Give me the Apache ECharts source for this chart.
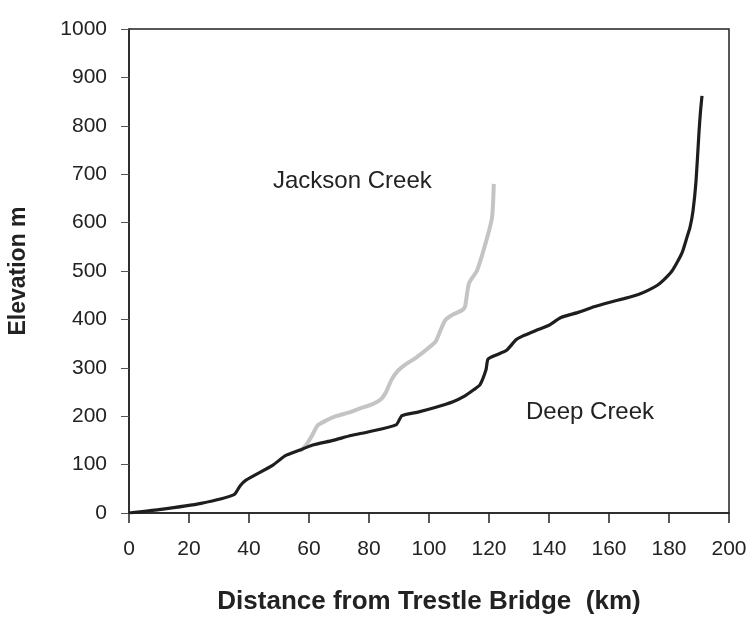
<!DOCTYPE html>
<html><head><meta charset="utf-8">
<script src="https://cdn.jsdelivr.net/npm/echarts@6/dist/echarts.min.js"></script>
<style>html,body{margin:0;padding:0;background:#fff}#c{width:753px;height:617px}</style>
</head><body><div id="c"></div>
<script>
// Deep Creek (black)
const deepX = [0,10,24,35,37,39,48,52,57,61,68,74,80,89,91,96,102,108,112,115,117,119,119.7,123,126,129,131,136,140,144,150,155,160,165,170,173,176,178,181,183,184.5,186,187,188,189,190,190.5,191];
const deepY = [0,7,20,38,56,68,99,118,130,140,150,160,168,182,201,208,218,230,242,255,265,296,318,328,337,358,365,378,388,404,415,426,435,443,452,460,470,480,500,521,540,570,590,624,685,787,830,862];
// Jackson Creek (grey)
const jackX = [57,59,61,62.9,65.7,69,73.5,77,81.2,84,85.6,87.5,89.5,92.2,95,97.8,100,102.2,104,105.5,108,111,112,113.3,116,118.8,121,121.6];
const jackY = [128,140,160,181,191,200,208,216,225,235,249,275,293,307,318,331,342,354,380,399,410,419,426,474,501,556,610,680];
const xTicks = [0,20,40,60,80,100,120,140,160,180,200];
const yTicks = [0,100,200,300,400,500,600,700,800,900,1000];

const zip = (xs, ys) => xs.map((x, i) => [x, ys[i]]);
const font = 'Liberation Sans, Arial, sans-serif';
const chart = echarts.init(document.getElementById('c'), null, {renderer: 'canvas'});
chart.setOption({
  animation: false,
  backgroundColor: '#fff',
  grid: {left: 129, right: 24, top: 29, bottom: 104, outerBoundsMode: 'none', containLabel: false,
         show: true, borderColor: '#222', borderWidth: 1.5, backgroundColor: 'transparent'},
  xAxis: {
    type: 'value', min: xTicks[0], max: xTicks[xTicks.length - 1], interval: 20,
    name: 'Distance from Trestle Bridge  (km)', nameLocation: 'middle', nameGap: 76,
    nameTextStyle: {fontFamily: font, fontSize: 26, fontWeight: 'bold', color: '#222'},
    axisLine: {lineStyle: {color: '#222', width: 1.5}},
    axisTick: {show: true, inside: false, length: 10, lineStyle: {color: '#222', width: 1.5}},
    axisLabel: {fontFamily: font, fontSize: 21, color: '#222', margin: 26, formatter: v => String(v)},
    splitLine: {show: false}
  },
  yAxis: {
    type: 'value', min: yTicks[0], max: yTicks[yTicks.length - 1], interval: 100,
    name: 'Elevation m', nameLocation: 'middle', nameGap: 99, nameRotate: 90,
    nameTextStyle: {fontFamily: font, fontSize: 23, fontWeight: 'bold', color: '#222'},
    axisLine: {lineStyle: {color: '#222', width: 1.5}},
    axisTick: {show: true, inside: false, length: 8, lineStyle: {color: '#555', width: 1}},
    axisLabel: {fontFamily: font, fontSize: 21, color: '#222', margin: 22, formatter: v => String(v)},
    splitLine: {show: false}
  },
  series: [
    {name: 'Jackson Creek', type: 'line', data: zip(jackX, jackY), showSymbol: false, smooth: 0.2,
     lineStyle: {color: '#c4c4c4', width: 4}, z: 2},
    {name: 'Deep Creek', type: 'line', data: zip(deepX, deepY), showSymbol: false, smooth: 0.2,
     lineStyle: {color: '#1c1f1e', width: 3.2}, z: 3}
  ],
  graphic: [
    {type: 'text', left: 273, top: 169, style: {text: 'Jackson Creek', font: '24px ' + font, fill: '#222'}},
    {type: 'text', left: 526, top: 400, style: {text: 'Deep Creek', font: '24px ' + font, fill: '#222'}}
  ]
});
</script></body></html>
